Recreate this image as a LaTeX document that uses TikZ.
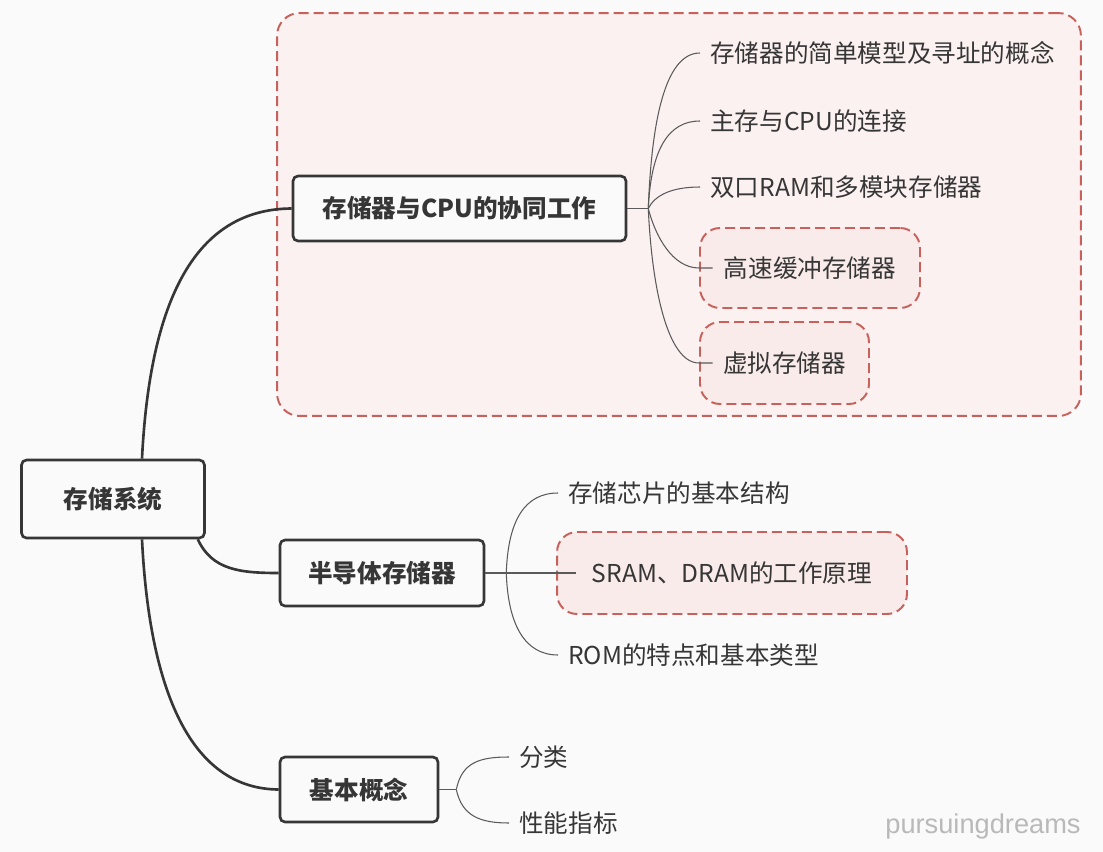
\documentclass[tikz,border=0pt]{standalone}
\usepackage{fontspec}
\setmainfont{Noto Sans CJK SC}
\newfontfamily\wmfont{Liberation Sans}
\usepackage{xcolor}
\usepackage{tikz}
\definecolor{paper}{HTML}{FAFAFA}
\definecolor{inkgray}{HTML}{363636}
\definecolor{twiggray}{HTML}{5A5A5A}
\definecolor{zonered}{HTML}{C8605C}
\definecolor{zonefill}{HTML}{FBF1F0}
\definecolor{hilitefill}{HTML}{F8EBE9}
\tikzset{
    topic/.style = {rectangle, rounded corners=0.1cm, draw=inkgray, line width=1.5pt, fill=paper, text=inkgray, font=\fontsize{14pt}{16pt}\selectfont\bfseries},
    leaf/.style = {anchor=west, inner xsep=0.2cm, inner ysep=0pt, text=inkgray, font=\fontsize{14pt}{16pt}\selectfont},
    hilite/.style = {rectangle, rounded corners=0.4cm, draw=zonered, fill=hilitefill, line width=1.1pt, dash pattern=on 0.2cm off 0.1cm, text=inkgray, font=\fontsize{14pt}{16pt}\selectfont},
    zone/.style = {rectangle, rounded corners=0.45cm, draw=zonered, fill=zonefill, line width=1.1pt, dash pattern=on 0.2cm off 0.1cm},
    branch/.style = {draw=inkgray, line width=1.5pt},
    twig/.style = {draw=twiggray, line width=0.6pt}
}
\begin{document}
\begin{tikzpicture}[x=0.02cm, y=-0.02cm]
\useasboundingbox [fill=paper] (0,0) rectangle (1103,852);

% group behind the first topic
\node (cpuzone) [zone, minimum width=16.08cm, minimum height=8.06cm] at (679,214.5) {};

% topics
\node (root) [topic, minimum width=3.66cm, minimum height=1.56cm] at (113,499) {存储系统};
\node (cpu) [topic, minimum width=6.66cm, minimum height=1.3cm] at (459.5,208.5) {存储器与CPU的协同工作};
\node (semi) [topic, minimum width=4.08cm, minimum height=1.32cm] at (382,573) {半导体存储器};
\node (basic) [topic, minimum width=3.16cm, minimum height=1.3cm] at (359,789.5) {基本概念};

% subtopics of cpu
\node (model) [leaf] at (700,53) {存储器的简单模型及寻址的概念};
\node (link) [leaf] at (700,121) {主存与CPU的连接};
\node (dual) [leaf] at (700,187) {双口RAM和多模块存储器};
\node (cache) [hilite, minimum width=4.4cm, minimum height=1.6cm] at (810,268) {高速缓冲存储器};
\node (virt) [hilite, minimum width=3.38cm, minimum height=1.64cm] at (784.5,363) {虚拟存储器};

% subtopics of semi
\node (chip) [leaf] at (558,493) {存储芯片的基本结构};
\node (ram) [hilite, minimum width=7cm, minimum height=1.64cm] at (732,573) {SRAM、DRAM的工作原理};
\node (rom) [leaf] at (558,655) {ROM的特点和基本类型};

% subtopics of basic
\node (kind) [leaf] at (509,757) {分类};
\node (perf) [leaf] at (509,823) {性能指标};

\node (mark) [text=gray!55, font=\wmfont\fontsize{15.5pt}{17pt}\selectfont] at (983,826) {pursuingdreams};

% main branches
\draw [branch] ([xshift=0.58cm]root.north) .. controls (150,300) and (195,209) .. (cpu.west);
\draw [branch] ([xshift=-0.16cm]root.south east) .. controls (212,570) and (240,573) .. (semi.west);
\draw [branch] ([xshift=0.58cm]root.south) .. controls (150,700) and (195,789) .. (basic.west);

% cpu twigs
\draw [twig] (cpu.east) -- ++(21,0) coordinate (cpuhub);
\draw [twig] (cpuhub) .. controls (652,110) and (668,53) .. (model.west);
\draw [twig] (cpuhub) .. controls (651,150) and (668,121) .. (link.west);
\draw [twig] (cpuhub) .. controls (655,195) and (672,187) .. (dual.west);
\draw [twig] (cpuhub) .. controls (655,235) and (672,268) .. (cache.west) -- ([xshift=0.27cm]cache.west);
\draw [twig] (cpuhub) .. controls (652,290) and (668,363) .. (virt.west) -- ([xshift=0.27cm]virt.west);

% semi twigs
\draw [twig] (semi.east) -- ++(21,0) coordinate (semihub);
\draw [twig] (semihub) .. controls (508,520) and (525,493) .. (chip.west);
\draw [twig] (semihub) -- (ram.west) -- ([xshift=0.4cm]ram.west);
\draw [twig] (semihub) .. controls (508,625) and (525,655) .. (rom.west);

% basic twigs
\draw [twig] (basic.east) -- ++(17,0) coordinate (basichub);
\draw [twig] (basichub) .. controls (462,762) and (480,757) .. (kind.west);
\draw [twig] (basichub) .. controls (462,816) and (480,823) .. (perf.west);
\end{tikzpicture}
\end{document}
